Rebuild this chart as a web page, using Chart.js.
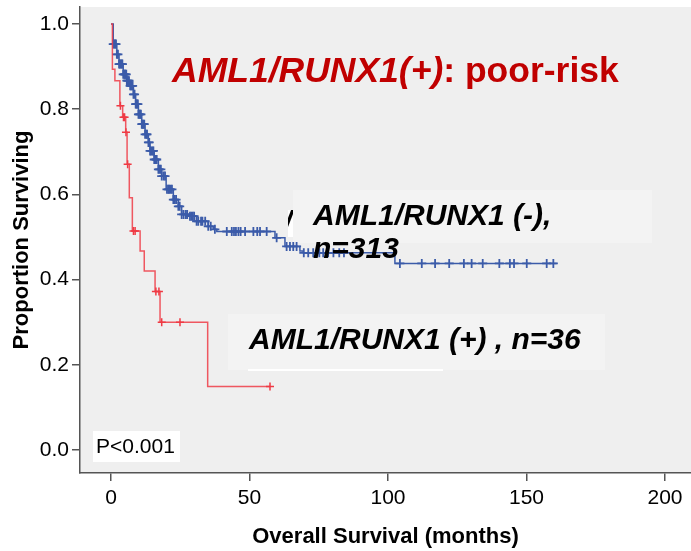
<!DOCTYPE html>
<html>
<head>
<meta charset="utf-8">
<script src="https://cdn.jsdelivr.net/npm/chart.js@4.4.1/dist/chart.umd.min.js"></script>
<style>
  html, body { margin: 0; padding: 0; background: #fff; }
  #wrap { width: 691px; height: 551px; }
</style>
</head>
<body>
<div id="wrap"><canvas id="km" width="691" height="551"></canvas></div>
<script>
// Kaplan-Meier steps: time of event (months) and survival after it
const negTime = [0, 0.8, 2.1, 2.9, 4.4, 5.7, 6.9, 8.1, 8.9, 9.9, 11.1, 12.3, 13.5, 14.1, 15.6, 17.1, 18.3, 19.9, 22.5, 24.3, 25.5, 28.5, 30.9, 35.1, 36.9, 38.2, 59.2, 62.8, 68.2, 69.4, 102.5, 160.9];
const negSurv = [1.0, 0.953, 0.929, 0.906, 0.882, 0.867, 0.855, 0.835, 0.812, 0.788, 0.765, 0.741, 0.722, 0.702, 0.682, 0.659, 0.643, 0.612, 0.588, 0.572, 0.553, 0.549, 0.537, 0.525, 0.518, 0.513, 0.498, 0.478, 0.467, 0.463, 0.438, 0.438];
const negCensor = [0.8, 1.2, 1.5, 1.8, 2.1, 2.5, 2.9, 3.2, 3.5, 3.9, 4.1, 4.4, 4.8, 5.0, 5.2, 5.5, 5.7, 6.0, 6.2, 6.5, 6.9, 7.2, 7.5, 7.8, 8.1, 8.5, 8.9, 9.1, 9.4, 9.7, 9.9,
  10.2, 10.5, 10.8, 11.1, 11.4, 11.7, 12.0, 12.3, 12.8, 13.0, 13.5, 13.8, 14.1, 14.5, 15.0, 15.3, 15.6, 16.2, 16.5, 17.1, 17.5, 18.0, 18.3, 19.0, 19.5,
  20.2, 20.7, 21.0, 21.5, 22.0, 22.5, 23.0, 23.5, 24.3, 24.8, 25.5, 26.2, 27.0, 27.5, 28.5, 29.0, 29.5, 30.0, 30.9, 31.5, 32.5, 33.0, 34.0, 35.1, 36.0, 37.5,
  41.8, 43.6, 44.4, 45.1, 46.0, 46.8, 48.4, 51.4, 52.8, 53.8, 56.2, 59.8, 63.4, 64.6, 65.8, 67.0,
  69.6, 71.2, 73.0, 75.2, 76.6, 78.4, 80.3, 82.4, 84.1,
  104.3, 112.2, 117.0, 122.1, 127.4, 130.2, 134.2, 140.2, 144.0, 145.5, 150.1, 157.3, 159.7];

const posTime = [0, 0.5, 1.4, 3.2, 4.2, 5.3, 5.8, 6.6, 7.7, 10.5, 12.0, 15.9, 17.7, 34.9, 57.4];
const posSurv = [1.0, 0.894, 0.867, 0.808, 0.781, 0.746, 0.671, 0.592, 0.514, 0.467, 0.420, 0.372, 0.300, 0.149, 0.149];
const posCensor = [3.4, 4.5, 4.9, 5.4, 6.0, 8.1, 8.7, 16.2, 17.3, 18.3, 24.9, 57.4];

const xTicks = [0, 50, 100, 150, 200];
const yTicks = [0.0, 0.2, 0.4, 0.6, 0.8, 1.0];

const FONT = 'Arial, "Liberation Sans", sans-serif';
const BLUE = '#3b5ba9';
const RED = 'rgba(238, 60, 70, 0.85)';

function survAt(ts, ss, t) {
  let s = ss[0];
  for (let i = 0; i < ts.length; i++) if (ts[i] <= t) s = ss[i];
  return s;
}
const curve = (ts, ss) => ts.map((t, i) => ({ x: t, y: ss[i] }));
const marks = (cs, ts, ss) => cs.map(t => ({ x: t, y: survAt(ts, ss, t) }));

// grey plot panel, label boxes and the texts on top
const panel = {
  id: 'panel',
  beforeDraw(chart) {
    const { ctx, chartArea: a } = chart;
    ctx.save();
    ctx.fillStyle = '#fff';
    ctx.fillRect(0, 0, chart.width, chart.height);
    ctx.fillStyle = '#efefef';
    ctx.fillRect(a.left, a.top, a.right - a.left, a.bottom - a.top);
    // faint boxes behind the group labels
    ctx.fillStyle = '#f3f3f3';
    ctx.fillRect(293, 190, 359, 53);
    ctx.fillRect(228, 314, 377, 56);
    ctx.fillStyle = '#fff';
    ctx.fillRect(248, 369, 195, 2);
    ctx.restore();
  },
  afterDraw(chart) {
    const { ctx } = chart;
    ctx.save();
    ctx.textBaseline = 'alphabetic';
    ctx.textAlign = 'left';

    ctx.fillStyle = '#c00000';
    ctx.font = 'italic bold 35.5px ' + FONT;
    ctx.fillText('AML1/RUNX1(+)', 172, 82);
    const w = ctx.measureText('AML1/RUNX1(+)').width;
    ctx.font = 'bold 35.5px ' + FONT;
    ctx.fillText(': poor-risk', 172 + w, 82);

    ctx.fillStyle = '#000';
    ctx.font = 'italic bold 30px ' + FONT;
    ctx.fillText('AML1/RUNX1 (-),', 313, 225);
    ctx.fillText('n=313', 313, 258);
    ctx.fillText('AML1/RUNX1 (+) , n=36', 249, 349);

    // small leftover box
    ctx.fillStyle = '#fff';
    ctx.fillRect(288, 210, 5, 27);
    ctx.beginPath();
    ctx.rect(288, 210, 5, 27);
    ctx.clip();
    ctx.fillStyle = '#000';
    ctx.font = 'italic bold 30px ' + FONT;
    ctx.fillText('/', 284, 231);
    ctx.restore();

    ctx.save();
    ctx.fillStyle = '#fff';
    ctx.fillRect(93, 431, 87, 31);
    ctx.fillStyle = '#000';
    ctx.font = '21px ' + FONT;
    ctx.textBaseline = 'alphabetic';
    ctx.fillText('P<0.001', 96, 453);
    ctx.restore();
  }
};

new Chart(document.getElementById('km'), {
  type: 'line',
  data: {
    datasets: [
      {
        label: 'AML1/RUNX1 (+) censored',
        type: 'scatter',
        data: marks(posCensor, posTime, posSurv),
        pointStyle: 'cross',
        pointRadius: 4,
        borderColor: '#ef3a44',
        borderWidth: 1.5,
        showLine: false
      },
      {
        label: 'AML1/RUNX1 (+)',
        data: curve(posTime, posSurv),
        stepped: 'before',
        borderColor: RED,
        borderWidth: 1.5,
        pointRadius: 0,
        fill: false
      },
      {
        label: 'AML1/RUNX1 (-) censored',
        type: 'scatter',
        data: marks(negCensor, negTime, negSurv),
        pointStyle: 'cross',
        pointRadius: 4.5,
        borderColor: BLUE,
        borderWidth: 1.8,
        showLine: false
      },
      {
        label: 'AML1/RUNX1 (-)',
        data: curve(negTime, negSurv),
        stepped: 'before',
        borderColor: BLUE,
        borderWidth: 1.5,
        pointRadius: 0,
        fill: false
      }
    ]
  },
  options: {
    responsive: false,
    animation: false,
    devicePixelRatio: 1,
    layout: { autoPadding: false, padding: { top: 7, right: 0, left: 0, bottom: 0 } },
    plugins: { legend: { display: false }, tooltip: { enabled: false } },
    scales: {
      x: {
        type: 'linear',
        min: -11.2,
        max: 209.4,
        afterBuildTicks: s => { s.ticks = xTicks.map(v => ({ value: v })); },
        afterFit: s => { s.height = 78; s.paddingLeft = 0; s.paddingRight = 0; },
        grid: { drawOnChartArea: false, drawTicks: true, tickLength: 8, color: '#555', lineWidth: 1.5 },
        border: { display: true, color: '#555', width: 1.5 },
        ticks: { color: '#000', font: { family: FONT, size: 21 }, padding: 5, maxRotation: 0 },
        title: { display: true, text: 'Overall Survival (months)', color: '#000',
                 font: { family: FONT, size: 22, weight: 'bold' }, padding: { top: 0, bottom: 1 } }
      },
      y: {
        type: 'linear',
        min: -0.054,
        max: 1.040,
        afterBuildTicks: s => { s.ticks = yTicks.map(v => ({ value: v })); },
        afterFit: s => { s.width = 80; s.paddingTop = 0; s.paddingBottom = 0; },
        grid: { drawOnChartArea: false, drawTicks: true, tickLength: 8, color: '#555', lineWidth: 1.5 },
        border: { display: true, color: '#555', width: 1.5 },
        ticks: { color: '#000', font: { family: FONT, size: 21 }, padding: 3,
                 callback: v => v.toFixed(1) },
        title: { display: true, text: 'Proportion Surviving', color: '#000',
                 font: { family: FONT, size: 22, weight: 'bold' }, padding: { top: 9, bottom: 0 } }
      }
    }
  },
  plugins: [panel]
});
</script>
</body>
</html>
